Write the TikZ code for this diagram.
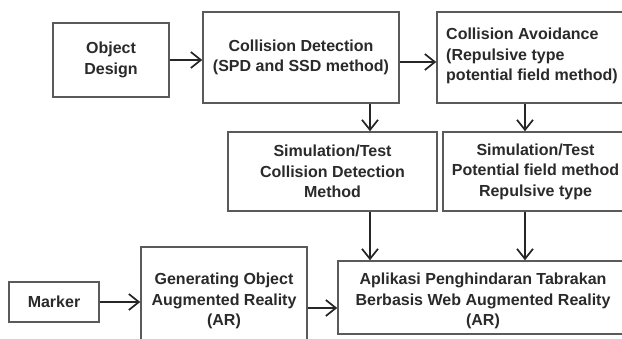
\documentclass[tikz,border=0pt]{standalone}
\usepackage{fontspec}
\setmainfont{Liberation Sans}
\usetikzlibrary{arrows.meta}
\definecolor{boxline}{HTML}{5A5A5A}
\definecolor{inktext}{HTML}{2A2A2A}
\tikzset{
  box/.style={draw=boxline, line width=1.6pt, rectangle, inner sep=0pt,
    text=inktext, align=center,
    font=\fontsize{16}{20.5}\selectfont\bfseries},
  label/.style={text=inktext, inner sep=0pt,
    font=\fontsize{16}{20.5}\selectfont\bfseries},
  flow/.style={draw=black!85, line width=1.7pt,
    -{Straight Barb[length=10pt,width=16pt,line width=1.7pt]}},
}
\begin{document}
\begin{tikzpicture}[x=1pt,y=-1pt]
\useasboundingbox (0,0) rectangle (622,338);
\clip (0,0) rectangle (622,338);
\fill[white] (0,0) rectangle (622,338);

% top row
\node[box, minimum width=116pt, minimum height=74pt] (od) at (111,60)
  {Object\\Design};
\node[box, minimum width=196pt, minimum height=91pt] (cd) at (301,57.5)
  {Collision Detection\\(SPD and SSD method)};
\node[box, minimum width=191pt, minimum height=91pt] (ca) at (532.5,57.5) {};
\node[label, anchor=west, align=left] (catext) at (446,56)
  {Collision Avoidance\\(Repulsive type\\potential field method)};

% simulation boxes
\node[box, minimum width=209pt, minimum height=79pt] (simcd) at (332.5,171.5)
  {Simulation/Test\\Collision Detection\\Method};
\node[box, minimum width=185pt, minimum height=79pt] (simpf) at (535.5,171.5)
  {Simulation/Test\\Potential field method\\Repulsive type};

% bottom row
\node[box, minimum width=90pt, minimum height=40pt] (mk) at (54,302) {Marker};
\node[box, minimum width=166pt, minimum height=98pt] (gen) at (224,296) {};
\node[label, align=center] (gentext) at (224,301)
  {Generating Object\\Augmented Reality\\(AR)};
\node[box, minimum width=290pt, minimum height=73pt] (app) at (483,297.5) {};
\node[label, align=center] (apptext) at (483,301)
  {Aplikasi Penghindaran Tabrakan\\Berbasis Web Augmented Reality\\(AR)};

% connectors
\draw[flow] (od.east) -- (od.east -| cd.west);
\draw[flow] ([yshift=-4.5pt]cd.east) -- ([yshift=-4.5pt]cd.east -| ca.west);
\draw[flow] ([xshift=69pt]cd.south) -- ([xshift=69pt]cd.south |- simcd.north);
\draw[flow] ([xshift=-7.5pt]ca.south) -- ([xshift=-7.5pt]ca.south |- simpf.north);
\draw[flow] ([xshift=37.5pt]simcd.south) -- ([xshift=37.5pt]simcd.south |- app.north);
\draw[flow] ([xshift=-10.5pt]simpf.south) -- ([xshift=-10.5pt]simpf.south |- app.north);
\draw[flow] (mk.east) -- (mk.east -| gen.west);
\draw[flow] ([yshift=-12pt]gen.east) -- ([yshift=-12pt]gen.east -| app.west);
\end{tikzpicture}
\end{document}
